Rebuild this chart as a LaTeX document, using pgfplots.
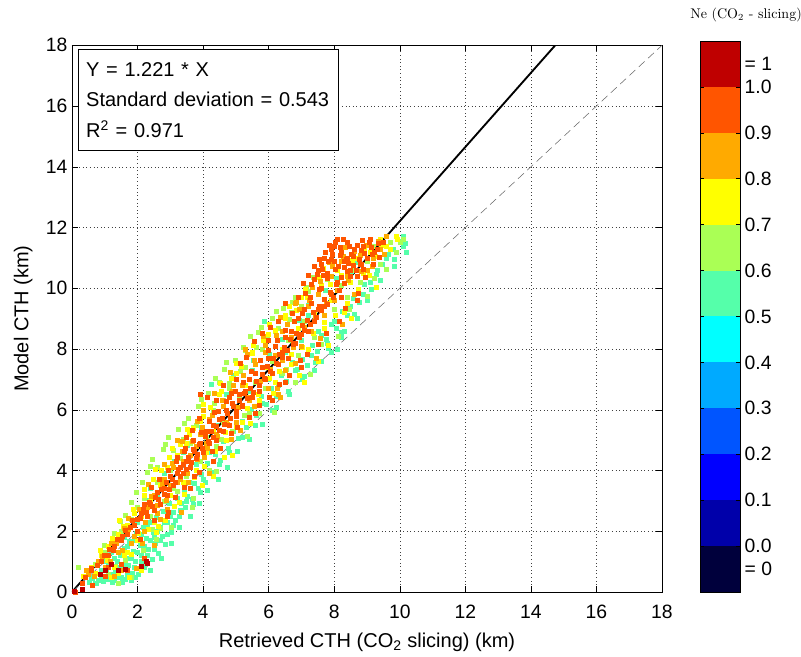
\documentclass[border=0pt]{standalone}
\usepackage{fontspec}
\setsansfont{Liberation Sans}
\renewcommand{\familydefault}{\sfdefault}
\usepackage{pgfplots}
\pgfplotsset{compat=1.18}

% discrete jet-like colours of the colour bar
\definecolor{c00}{RGB}{0,0,60}
\definecolor{c01}{RGB}{0,0,170}
\definecolor{c02}{RGB}{0,0,255}
\definecolor{c03}{RGB}{0,85,255}
\definecolor{c04}{RGB}{0,170,255}
\definecolor{c05}{RGB}{0,255,255}
\definecolor{c06}{RGB}{85,255,170}
\definecolor{c07}{RGB}{170,255,85}
\definecolor{c08}{RGB}{255,255,0}
\definecolor{c09}{RGB}{255,170,0}
\definecolor{c10}{RGB}{255,85,0}
\definecolor{c11}{RGB}{191,0,0}

\pgfplotsset{
  pts/.style={only marks, mark=square*, mark size=1.5pt, color=#1, mark options={draw=none, fill=#1}},
  bar/.style={draw=none, fill=#1},
}

\begin{document}
\begin{tikzpicture}
\useasboundingbox (-54pt,-48.75pt) rectangle (546.75pt,444pt);
\begin{axis}[
  name=main,
  scale only axis,
  width=442.5pt, height=410pt,
  xmin=0, xmax=18, ymin=0, ymax=18,
  xtick={0,2,...,18}, ytick={0,2,...,18},
  grid=major,
  major grid style={black!75, dash pattern=on 0.5pt off 2.2pt},
  tick align=inside,
  major tick length=4.5pt,
  tick style={black, thin},
  axis line style={black, thin},
  /pgf/number format/assume math mode=true,
  tick label style={font=\fontsize{14.5}{16}\selectfont},
  xticklabel style={yshift=-6pt},
  label style={font=\fontsize{15}{17}\selectfont},
  xlabel={Retrieved CTH (CO\textsubscript{2} slicing) (km)},
  ylabel={Model CTH (km)},
  xlabel style={yshift=-4pt},
  ylabel style={yshift=3pt},
]
% NE 0.5-0.6
\addplot[pts=c06] coordinates {
(0.6,0.5) (0.8,0.4) (0.9,0.7) (1.0,0.5) (1.1,0.9) (1.2,0.6) (1.3,0.4) (1.3,1.1)
(1.4,0.8) (1.5,0.5) (1.5,1.3) (1.6,0.9) (1.7,0.6) (1.7,1.5) (1.8,1.1) (1.9,0.8)
(1.9,1.7) (2.0,1.3) (2.1,1.0) (2.1,1.9) (2.2,1.5) (2.3,1.2) (2.3,2.2) (2.4,1.7)
(2.5,1.4) (2.6,2.0) (2.7,1.7) (2.8,2.3) (2.9,1.9) (3.0,2.5) (3.1,2.2) (3.3,2.7)
(3.5,3.0) (1.2,1.3) (1.6,1.8) (2.0,2.3) (2.2,2.7) (2.6,3.2) (3.2,3.9) (3.6,3.4)
(3.8,4.2) (4.0,3.7) (4.2,4.6) (4.4,5.5) (4.5,4.2) (4.8,4.6) (5.0,5.9) (5.2,5.1)
(5.4,6.6) (5.6,5.5) (5.8,6.2) (6.0,7.0) (6.1,6.0) (6.3,6.8) (6.5,7.9) (6.6,6.6)
(6.8,7.3) (7.0,8.3) (7.1,7.1) (7.3,7.8) (7.5,8.6) (7.6,7.6) (7.8,8.2) (8.0,8.9)
(8.1,8.0) (8.3,8.6) (8.5,9.4) (8.7,9.0) (8.9,9.8) (9.1,10.2) (9.3,10.6) (9.6,11.0)
(9.8,11.3) (10.1,11.4) (10.1,11.7) (10.2,11.2) (4.6,6.3) (3.4,4.6) (2.4,3.4)
(7.2,9.1) (5.5,7.3) (1.8,0.4) (2.2,0.8) (2.5,1.8) (3.7,2.9) (3.9,3.3) (7.4,7.3)
(7.9,7.9) (8.2,8.4) (6.9,7.8) (1.0,1.0) (0.7,0.3)
(0.52,0.31) (0.63,0.45) (0.74,0.28) (0.88,0.52) (0.95,0.36) (1.06,0.72) (1.12,0.42)
(1.18,0.95) (1.24,0.33) (1.33,0.64) (1.37,1.02) (1.44,0.47) (1.48,1.21) (1.53,0.78)
(1.58,1.45) (1.62,0.42) (1.66,1.12) (1.72,0.88) (1.76,1.68) (1.83,0.62) (1.86,1.33)
(1.93,1.02) (1.97,1.92) (2.03,0.58) (2.07,1.55) (2.12,1.21) (2.16,2.12) (2.24,0.91)
(2.27,1.78) (2.33,1.42) (2.38,2.31) (2.44,1.09) (2.47,1.96) (2.53,1.62) (2.57,2.45)
(2.63,1.28) (2.68,2.12) (2.74,1.85) (2.79,2.66) (2.86,1.58) (2.92,2.28) (2.97,2.92)
(3.04,1.98) (3.09,2.63) (3.16,2.35) (3.22,3.08) (3.27,2.51) (3.34,2.92) (3.41,3.35)
(3.46,2.78) (3.53,3.15) (3.58,3.62) (3.66,3.05) (3.72,3.58) (3.84,3.42) (3.93,3.88)
(4.06,3.62) (4.14,4.25) (4.27,3.95) (4.36,4.52) (4.52,4.33) (4.63,4.95) (4.78,4.72)
(4.91,5.28) (5.06,5.05) (5.18,5.62) (5.33,5.41) (5.47,6.02) (5.62,5.81) (5.76,6.45)
(5.93,6.18) (6.08,6.72) (6.24,6.45) (6.37,7.12) (6.55,6.95) (6.71,7.55) (6.88,7.35)
(7.04,7.66) (7.18,7.48) (7.33,8.12) (7.48,7.92) (7.62,8.45) (7.77,8.31) (7.92,8.82)
(8.06,8.67) (8.24,9.25) (8.41,9.12) (8.58,9.66) (8.76,9.54) (8.93,10.12) (9.12,9.98)
(9.28,10.45) (9.47,10.78) (9.66,11.12) (9.84,10.95) (10.05,11.55) (2.35,3.02)
(3.12,4.32) (3.95,5.42) (4.72,6.51) (5.52,7.62) (6.42,8.31) (7.21,9.45) (8.05,10.32)
(8.65,10.85) (4.25,6.85) (5.88,8.92)
(1.52,0.32) (1.92,0.48) (2.38,0.72) (2.72,1.12) (3.02,1.62) (3.28,2.12) (3.62,2.48)
(3.88,2.92) (4.12,3.35) (4.45,3.72) (4.75,4.12) (5.05,4.62) (5.42,5.02) (5.82,5.52)
(6.22,6.08) (6.62,6.52) (7.02,7.02) (7.42,7.55) (7.82,8.02) (8.22,8.55) (8.62,9.15)
(9.02,9.62) (9.42,10.25) (9.82,10.72) (10.18,11.48) (2.82,3.92) (3.52,4.82) (4.92,7.12)
(6.02,7.82) (6.92,8.95) (7.72,9.95) (8.52,10.55) (9.42,11.28)
};
% NE 0.6-0.7
\addplot[pts=c07] coordinates {
(0.2,0.8) (0.7,0.9) (1.0,1.3) (1.3,1.7) (1.5,2.0) (1.8,2.4) (2.0,2.8) (2.2,3.1)
(2.4,2.5) (2.6,3.6) (2.8,3.0) (3.0,4.0) (3.1,3.4) (3.3,4.4) (3.5,3.8) (3.6,4.9)
(3.8,5.5) (3.9,4.3) (4.1,5.1) (4.3,6.0) (4.4,4.8) (4.6,5.6) (4.8,6.7) (4.9,5.3)
(5.1,6.4) (5.3,7.4) (5.4,5.9) (5.6,6.9) (5.8,8.0) (5.9,6.7) (6.1,7.6) (6.2,8.6)
(6.4,7.2) (6.6,8.3) (6.7,9.2) (6.9,7.8) (7.1,8.9) (7.2,9.9) (7.4,8.4) (7.6,9.4)
(7.8,10.3) (8.0,9.3) (8.2,10.1) (8.4,9.7) (8.6,10.6) (8.8,10.2) (9.0,10.9) (9.2,11.4)
(9.4,10.8) (9.7,11.5) (10.0,11.5) (1.1,0.6) (1.8,0.5) (2.7,2.1) (3.7,3.1) (4.2,4.0)
(5.7,5.9) (6.8,6.9) (1.4,0.3) (9.9,11.2)
(0.98,1.55) (1.28,1.92) (1.46,2.33) (1.63,2.52) (1.81,2.95) (1.95,3.28) (2.14,3.62)
(2.29,3.95) (2.46,4.38) (2.61,4.12) (2.77,4.71) (2.93,5.08) (3.08,4.66) (3.24,5.35)
(3.39,5.02) (3.55,5.72) (3.71,5.41) (3.86,6.12) (4.02,5.78) (4.17,6.55) (4.33,6.21)
(4.48,6.92) (4.64,7.35) (4.81,6.88) (4.97,7.62) (5.13,7.28) (5.29,7.95) (5.45,8.42)
(5.61,8.05) (5.78,8.71) (5.95,8.35) (6.12,9.02) (6.28,8.68) (6.46,9.35) (6.63,8.98)
(6.81,9.71) (6.98,9.42) (7.16,10.05) (1.32,0.85) (2.18,1.38) (2.56,1.72) (3.02,2.12)
(3.67,2.78) (4.41,3.98) (5.36,5.12) (6.18,5.92) (7.26,7.18) (8.13,8.41) (9.02,9.75)
(9.58,10.62) (10.12,11.62)
(2.38,4.15) (2.85,4.88) (3.42,5.55) (3.95,6.35) (4.38,7.05) (4.72,7.55) (5.22,8.05)
(5.68,8.55) (6.22,9.25) (6.72,9.55) (7.35,10.35) (1.62,1.05) (2.45,2.05) (3.21,3.32)
(4.55,5.02) (5.25,5.82) (6.55,7.32) (7.62,8.15) (8.45,9.32) (9.22,10.32)
};
% NE 0.7-0.8
\addplot[pts=c08] coordinates {
(0.4,0.5) (0.6,0.8) (0.9,1.2) (1.1,1.5) (1.3,0.8) (1.4,1.9) (1.6,1.2) (1.7,2.2)
(1.9,2.6) (2.1,2.5) (2.2,3.2) (2.4,3.0) (2.5,2.3) (2.7,3.5) (2.9,4.1) (3.0,3.2)
(3.2,4.5) (3.4,3.6) (3.5,4.9) (3.7,5.4) (3.8,4.0) (4.0,5.8) (4.1,4.6) (4.3,5.3)
(4.5,6.5) (4.7,5.0) (4.9,6.2) (5.0,7.2) (5.2,5.6) (5.3,6.8) (5.5,7.9) (5.7,6.3)
(5.9,7.4) (6.0,8.5) (6.2,6.9) (6.4,8.0) (6.5,9.0) (6.7,7.5) (6.9,8.7) (7.0,9.7)
(7.2,8.0) (7.4,9.2) (7.6,10.1) (7.7,8.7) (7.9,9.6) (8.1,10.6) (8.3,9.2) (8.5,10.2)
(8.7,11.0) (8.9,10.5) (9.1,11.2) (9.4,11.6) (9.6,11.4) (9.9,11.7) (4.3,3.8) (4.9,4.5)
(7.1,6.9) (7.5,7.6) (1.2,0.5) (2.0,1.7)
(0.33,0.52) (0.71,0.62) (0.86,1.36) (1.09,1.05) (1.22,1.78) (1.41,0.62) (1.56,2.18)
(1.69,1.32) (1.87,2.72) (2.01,1.92) (2.19,3.38) (2.32,2.05) (2.48,3.72) (2.58,1.98)
(2.71,4.02) (2.84,2.35) (2.98,4.45) (3.13,2.82) (3.29,4.85) (3.44,3.22) (3.59,5.18)
(3.74,3.78) (3.91,5.61) (4.05,4.15) (4.22,6.08) (4.38,4.62) (4.55,6.62) (4.69,5.25)
(4.86,7.05) (5.02,5.45) (5.17,7.42) (5.35,6.05) (5.51,7.85) (5.68,6.52) (5.84,8.28)
(6.01,7.05) (6.19,8.62) (6.33,7.28) (6.52,9.12) (6.68,7.82) (6.85,9.28) (7.02,8.05)
(7.19,9.72) (7.36,8.52) (7.53,10.35) (7.71,8.88) (7.88,10.12) (8.04,9.12) (8.22,10.42)
(8.39,9.52) (8.56,10.92) (8.73,9.98) (8.91,11.32) (9.08,10.42) (9.26,11.05) (9.44,11.42)
(9.71,11.28) (9.93,11.62) (2.12,0.72) (1.74,0.48)
(2.55,4.05) (3.05,4.72) (3.52,5.35) (4.02,6.18) (4.52,6.88) (5.02,7.52) (5.52,8.12)
(6.02,8.82) (6.62,9.42) (7.12,9.98) (7.68,10.65) (1.45,2.35) (1.82,1.25) (2.62,2.18)
(3.28,2.95) (3.98,3.52) (4.65,4.45) (5.45,5.55) (6.15,6.55) (6.92,7.12) (7.82,8.12)
(8.52,9.02) (9.28,10.02)
};
% NE 0.8-0.9
\addplot[pts=c09] coordinates {
(0.5,0.6) (0.8,1.0) (1.0,0.8) (1.2,1.6) (1.4,1.3) (1.6,2.1) (1.8,1.6) (2.0,2.4)
(2.2,2.0) (2.3,2.8) (2.5,3.2) (2.6,2.6) (2.8,3.7) (3.0,3.5) (3.1,4.1) (3.3,3.7)
(3.4,4.3) (3.6,4.5) (3.8,4.8) (3.9,5.2) (4.1,4.9) (4.2,5.7) (4.4,5.2) (4.6,6.1)
(4.7,5.6) (4.9,6.6) (5.0,5.6) (5.2,6.8) (5.4,6.3) (5.6,7.5) (5.7,6.8) (5.9,7.9)
(6.0,6.7) (6.2,7.8) (6.4,8.6) (6.5,7.3) (6.7,8.4) (6.8,9.5) (7.0,8.1) (7.2,9.4)
(7.3,8.6) (7.5,9.8) (7.7,9.1) (7.9,10.4) (8.0,9.6) (8.2,10.9) (8.4,10.4) (8.6,9.8)
(8.8,11.1) (9.0,10.6) (9.2,11.0) (9.4,11.3) (9.6,11.7) (5.3,8.0) (4.0,6.0) (3.2,5.0)
(1.5,0.7) (2.7,2.4) (6.3,6.5)
(0.44,0.72) (0.67,0.51) (0.93,1.18) (1.16,1.02) (1.35,1.62) (1.52,1.38) (1.71,2.05)
(1.89,1.82) (2.06,2.72) (2.25,2.28) (2.42,3.15) (2.59,2.85) (2.76,3.55) (2.89,3.02)
(3.06,4.25) (3.21,3.62) (3.37,4.62) (3.52,3.92) (3.68,4.95) (3.82,4.38) (3.97,5.42)
(4.12,4.72) (4.28,5.82) (4.43,5.12) (4.59,6.32) (4.74,5.52) (4.92,6.82) (5.08,6.08)
(5.24,7.15) (5.41,6.42) (5.57,7.62) (5.73,6.95) (5.91,8.12) (6.06,7.35) (6.23,8.45)
(6.41,7.62) (6.58,8.82) (6.74,8.05) (6.92,9.32) (7.08,8.72) (7.25,9.62) (7.42,9.05)
(7.58,10.22) (7.75,9.52) (7.93,10.72) (8.09,9.92) (8.27,11.05) (8.44,10.28) (8.62,11.22)
(8.81,10.55) (8.98,11.42) (9.16,10.72) (9.35,11.55) (9.53,11.12) (2.52,1.55) (3.32,2.62)
(4.18,3.92) (5.12,5.32) (6.35,6.42) (7.45,7.68) (1.95,0.78) (1.28,0.52)
(2.32,3.55) (2.82,4.22) (3.35,4.95) (3.82,5.62) (4.35,6.55) (4.82,7.25) (5.35,7.82)
(5.85,8.42) (6.35,9.05) (6.85,9.55) (7.32,10.02) (7.85,10.85) (8.35,11.35) (1.72,2.42)
(2.15,1.62) (2.92,2.72) (3.55,3.62) (4.05,4.42) (4.85,5.02) (5.55,6.12) (6.25,6.72)
(6.82,7.52) (7.58,8.35) (8.25,8.82)
};
% NE 0.9-1.0
\addplot[pts=c10] coordinates {
(0.3,0.3) (0.6,0.7) (0.9,1.0) (1.1,1.2) (1.3,1.5) (1.5,1.7) (1.7,1.9) (1.9,2.2)
(2.0,2.0) (2.1,2.6) (2.3,2.5) (2.4,2.9) (2.5,2.7) (2.6,3.3) (2.7,2.9) (2.8,3.4)
(2.9,3.2) (3.0,3.8) (3.1,3.5) (3.2,3.9) (3.3,4.1) (3.4,3.9) (3.5,4.3) (3.6,4.1)
(3.7,4.7) (3.8,4.4) (3.9,4.9) (4.0,4.6) (4.1,5.3) (4.2,4.9) (4.3,5.5) (4.4,5.0)
(4.5,5.7) (4.6,5.3) (4.7,6.0) (4.8,5.5) (4.9,6.2) (5.0,5.8) (5.1,6.5) (5.2,6.1)
(5.3,6.6) (5.4,7.0) (5.5,6.4) (5.6,7.2) (5.7,6.6) (5.8,7.4) (5.9,7.0) (6.0,7.7)
(6.1,7.2) (6.2,8.1) (6.3,7.5) (6.4,7.9) (6.5,8.4) (6.6,7.7) (6.7,8.6) (6.8,8.2)
(6.9,9.0) (7.0,8.5) (7.1,9.3) (7.2,8.6) (7.3,9.5) (7.4,8.9) (7.5,9.3) (7.6,10.0)
(7.7,9.4) (7.8,10.5) (7.9,9.8) (8.0,10.9) (8.1,10.2) (8.2,11.2) (8.3,10.7) (8.4,11.0)
(8.5,10.6) (8.6,11.3) (8.7,10.4) (8.8,10.8) (8.9,11.4) (9.0,11.0) (9.1,11.6) (9.2,10.8)
(9.3,11.3) (9.5,11.5) (7.7,11.0) (7.5,10.6) (7.9,11.3) (8.1,11.6) (6.3,8.9) (5.0,7.0)
(4.4,6.3) (3.9,6.5) (2.9,2.5) (3.6,3.4) (4.3,4.3) (5.6,5.9) (6.1,6.3) (6.5,6.9)
(7.0,7.4) (1.1,0.8) (1.5,0.9) (0.1,0.0) (7.6,10.8) (8.0,11.4) (8.4,11.5) (7.4,10.3)
(8.7,9.6) (8.2,9.7) (6.0,8.3) (4.8,6.4) (3.5,5.1) (2.2,2.9)
(0.42,0.48) (0.58,0.78) (0.76,0.88) (0.97,1.22) (1.14,1.42) (1.26,1.38) (1.38,1.72)
(1.54,1.82) (1.61,2.02) (1.79,2.12) (1.84,2.35) (1.98,2.38) (2.09,2.42) (2.18,2.72)
(2.28,2.62) (2.36,2.95) (2.45,2.82) (2.54,3.12) (2.62,3.05) (2.71,3.38) (2.81,3.22)
(2.88,3.62) (2.96,3.38) (3.05,3.72) (3.14,3.62) (3.23,4.05) (3.31,3.82) (3.39,4.22)
(3.48,4.05) (3.56,4.45) (3.64,4.28) (3.73,4.62) (3.81,4.52) (3.89,4.85) (3.98,4.72)
(4.07,5.12) (4.16,4.95) (4.24,5.28) (4.32,5.08) (4.41,5.45) (4.49,5.32) (4.57,5.72)
(4.66,5.52) (4.75,5.88) (4.83,5.72) (4.92,6.12) (5.01,5.95) (5.09,6.32) (5.18,6.15)
(5.27,6.55) (5.36,6.38) (5.44,6.72) (5.53,6.58) (5.62,6.95) (5.71,6.82) (5.79,7.18)
(5.88,7.05) (5.97,7.42) (6.06,7.28) (6.14,7.68) (6.23,7.52) (6.32,7.82) (6.41,7.72)
(6.49,8.05) (6.58,7.95) (6.66,8.32) (6.75,8.15) (6.84,8.52) (6.92,8.38) (7.01,8.78)
(7.09,8.62) (7.18,8.95) (7.27,8.82) (7.36,9.22) (7.44,9.05) (7.53,9.42) (7.62,9.28)
(7.71,9.65) (7.79,9.48) (7.88,9.88) (7.97,9.72) (8.05,10.12) (8.14,9.95) (8.23,10.35)
(8.32,10.18) (8.41,10.55) (8.49,10.38) (8.58,10.75) (8.67,10.58) (8.76,10.95) (8.84,10.78)
(8.93,11.15) (9.02,10.98) (9.12,11.35) (9.22,11.18) (9.34,11.48)
(6.52,9.52) (6.71,9.18) (6.89,9.72) (7.05,10.15) (7.12,9.82) (7.22,10.42) (7.31,10.12)
(7.39,10.72) (7.47,10.45) (7.55,10.95) (7.63,10.62) (7.72,11.18) (7.81,10.88) (7.86,11.42)
(7.95,11.12) (8.03,11.52) (8.12,10.72) (8.19,11.35) (8.29,11.62) (8.36,10.95) (8.45,11.38)
(8.53,11.12) (8.71,11.42) (8.86,11.58) (6.05,8.72) (5.82,8.52) (5.55,8.25) (5.32,7.72)
(5.12,7.52) (4.85,6.55) (4.62,6.82) (4.35,5.92) (4.12,6.42) (3.88,5.72) (3.66,5.32)
(3.45,4.72) (3.22,4.42) (2.08,1.75) (2.52,2.35) (2.95,2.62) (3.42,3.45) (3.88,3.95)
(4.52,4.72) (5.05,5.42) (5.71,6.15) (6.33,6.85) (6.95,7.62) (7.52,8.15) (8.15,8.92)
(8.72,9.82) (0.62,0.22) (1.02,0.52) (1.68,0.72) (2.22,1.12)
(2.42,3.45) (2.66,3.72) (2.93,4.02) (3.17,4.31) (3.44,4.62) (3.69,4.98) (3.94,5.25)
(4.19,5.62) (4.46,5.95) (4.71,6.28) (4.97,6.62) (5.22,6.92) (5.47,7.28) (5.74,7.62)
(5.99,7.95) (6.26,8.28) (6.51,8.62) (6.77,8.92) (7.02,9.18) (7.28,9.72) (7.54,9.98)
(7.79,10.32) (8.04,10.62) (8.31,10.88) (8.57,11.05) (8.82,11.25) (9.06,11.52) (7.67,10.42)
(7.92,10.95) (8.18,11.08) (8.43,10.82) (8.9,10.62) (9.15,11.12) (9.38,11.02)
(3.15,3.12) (3.74,3.82) (4.28,4.62) (4.86,5.22) (5.42,5.75) (6.02,6.42) (6.62,7.15)
(7.18,7.82) (7.76,8.52) (8.35,9.35) (8.95,10.35)
};
% NE = 1
\addplot[pts=c11] coordinates {
(0.85,0.6) (1.0,0.7) (1.4,0.7) (2.1,0.85) (2.3,0.95) (0.3,0.1) (1.2,0.9)
(0.07,0.02) (2.28,1.02) (1.62,0.75)
};
% regression fit and 1:1 line
\addplot[no markers, sharp plot, black, line width=1.4pt] coordinates {(0,0) (14.742,18)};
\addplot[no markers, sharp plot, black!60, thin, dash pattern=on 6pt off 3.5pt] coordinates {(0,0) (18,18)};
\node[draw=black, thin, fill=white, anchor=north west, align=left,
      text width=183pt, inner xsep=6pt, inner ysep=9.5pt,
      font=\fontsize{15}{23}\selectfont]
  at (axis cs:0.18,17.87)
  {Y = 1.221 * X\\Standard deviation = 0.543\\R\textsuperscript{2} = 0.971};
\end{axis}

% colour bar
\begin{axis}[
  at={(471pt,0pt)}, anchor=south west,
  scale only axis,
  width=30pt, height=413.25pt,
  xmin=0, xmax=1, ymin=-0.1, ymax=1.1,
  xtick=\empty,
  ytick={0,0.1,...,1.0},
  yticklabels={0.0,0.1,0.2,0.3,0.4,0.5,0.6,0.7,0.8,0.9,1.0},
  extra y ticks={-0.05,1.05},
  extra y tick labels={= 0,= 1},
  extra y tick style={major tick length=0pt},
  yticklabel pos=right,
  tick align=inside,
  major tick length=3pt,
  tick style={black, thin},
  axis on top,
  /pgf/number format/assume math mode=true,
  tick label style={font=\fontsize{14.5}{16}\selectfont},
]
\addplot[bar=c00] coordinates {(0,-0.1) (1,-0.1) (1,0.0) (0,0.0)} -- cycle;
\addplot[bar=c01] coordinates {(0,0.0) (1,0.0) (1,0.1) (0,0.1)} -- cycle;
\addplot[bar=c02] coordinates {(0,0.1) (1,0.1) (1,0.2) (0,0.2)} -- cycle;
\addplot[bar=c03] coordinates {(0,0.2) (1,0.2) (1,0.3) (0,0.3)} -- cycle;
\addplot[bar=c04] coordinates {(0,0.3) (1,0.3) (1,0.4) (0,0.4)} -- cycle;
\addplot[bar=c05] coordinates {(0,0.4) (1,0.4) (1,0.5) (0,0.5)} -- cycle;
\addplot[bar=c06] coordinates {(0,0.5) (1,0.5) (1,0.6) (0,0.6)} -- cycle;
\addplot[bar=c07] coordinates {(0,0.6) (1,0.6) (1,0.7) (0,0.7)} -- cycle;
\addplot[bar=c08] coordinates {(0,0.7) (1,0.7) (1,0.8) (0,0.8)} -- cycle;
\addplot[bar=c09] coordinates {(0,0.8) (1,0.8) (1,0.9) (0,0.9)} -- cycle;
\addplot[bar=c10] coordinates {(0,0.9) (1,0.9) (1,1.0) (0,1.0)} -- cycle;
\addplot[bar=c11] coordinates {(0,1.0) (1,1.0) (1,1.1) (0,1.1)} -- cycle;
\end{axis}
\node[font=\rmfamily\fontsize{10.5}{12}\selectfont] at (505.5pt,432.75pt) {Ne (CO$_2$ - slicing)};
\end{tikzpicture}
\end{document}
